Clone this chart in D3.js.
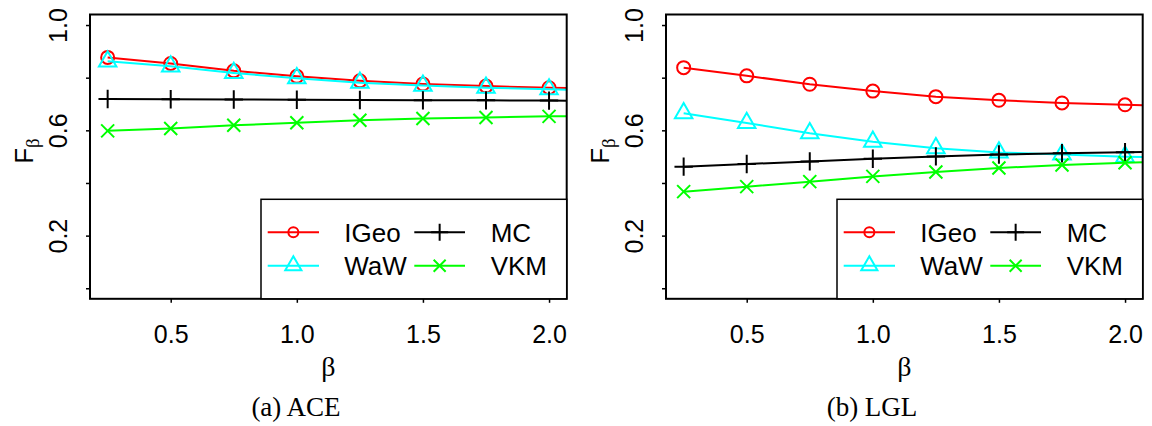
<!DOCTYPE html>
<html>
<head>
<meta charset="utf-8">
<script src="https://cdn.jsdelivr.net/npm/d3@7"></script>
<style>
  html, body { margin: 0; padding: 0; background: #fff; }
  svg { display: block; }
</style>
</head>
<body>
<svg id="chart" width="1152" height="426"></svg>
<script>
// beta values (the last one lies past the right edge and is clipped)
const betas = [0.25, 0.5, 0.75, 1.0, 1.25, 1.5, 1.75, 2.0, 2.25];

// ACE
const aceIGeo = [0.877, 0.854, 0.826, 0.805, 0.788, 0.776, 0.768, 0.762, 0.757];
const aceWaW  = [0.862, 0.843, 0.818, 0.798, 0.781, 0.770, 0.762, 0.756, 0.751];
const aceMC   = [0.719, 0.718, 0.717, 0.716, 0.715, 0.714, 0.714, 0.713, 0.712];
const aceVKM  = [0.598, 0.607, 0.619, 0.629, 0.638, 0.645, 0.649, 0.653, 0.656];

// LGL
const lglIGeo = [0.838, 0.807, 0.775, 0.749, 0.728, 0.714, 0.704, 0.697, 0.692];
const lglWaW  = [0.665, 0.628, 0.589, 0.557, 0.532, 0.516, 0.508, 0.500, 0.494];
const lglMC   = [0.462, 0.472, 0.482, 0.492, 0.501, 0.508, 0.513, 0.517, 0.520];
const lglVKM  = [0.367, 0.386, 0.405, 0.425, 0.442, 0.457, 0.468, 0.477, 0.484];

const seriesNames  = ["IGeo", "WaW", "MC", "VKM"];
const seriesColors = ["#ff0000", "#00ffff", "#000000", "#00ff00"];
const seriesShapes = ["circle", "triangle", "plus", "cross"];

const xTicks = [0.5, 1.0, 1.5, 2.0];
const yTicks = [0, 0.2, 0.4, 0.6, 0.8, 1.0];
const yLabelled = [0.2, 0.6, 1.0];

const panels = [
  { caption: "(a) ACE", data: [aceIGeo, aceWaW, aceMC, aceVKM] },
  { caption: "(b) LGL", data: [lglIGeo, lglWaW, lglMC, lglVKM] }
];

const svg = d3.select("#chart");
const sans = "'Liberation Sans', Arial, Helvetica, sans-serif";
const serif = "'Liberation Serif', 'Times New Roman', serif";

const plot = { left: 90, right: 566.7, top: 14.5, bottom: 298.8 };
const x = d3.scaleLinear().domain([0.18, 2.07]).range([plot.left, plot.right]);
const y = d3.scaleLinear().domain([-0.04, 1.04]).range([plot.bottom, plot.top]);

// marker path generator, s = base radius
function markerPath(shape, s) {
  const p = d3.path();
  if (shape === "circle") {
    p.moveTo(s, 0); p.arc(0, 0, s, 0, 2 * Math.PI);
  } else if (shape === "triangle") {
    const r = 1.555 * s, xc = 1.347 * s, yc = 0.778 * s;
    p.moveTo(0, -r); p.lineTo(xc, yc); p.lineTo(-xc, yc); p.closePath();
  } else if (shape === "plus") {
    const h = 1.414 * s;
    p.moveTo(-h, 0); p.lineTo(h, 0); p.moveTo(0, -h); p.lineTo(0, h);
  } else {
    p.moveTo(-s, -s); p.lineTo(s, s); p.moveTo(-s, s); p.lineTo(s, -s);
  }
  return p.toString();
}

panels.forEach((panel, pi) => {
  const g = svg.append("g").attr("transform", `translate(${pi * 576},0)`);
  const clipId = "clip" + pi;
  g.append("clipPath").attr("id", clipId)
    .append("rect")
    .attr("x", plot.left).attr("y", plot.top)
    .attr("width", plot.right - plot.left).attr("height", plot.bottom - plot.top);

  // series
  const line = d3.line().x((d, i) => x(betas[i])).y(d => y(d));
  const sg = g.append("g").attr("clip-path", `url(#${clipId})`);
  panel.data.forEach((vals, si) => {
    sg.append("path")
      .attr("d", line(vals))
      .attr("fill", "none")
      .attr("stroke", seriesColors[si])
      .attr("stroke-width", 2);
    sg.selectAll(null).data(vals).enter().append("path")
      .attr("transform", (d, i) => `translate(${x(betas[i])},${y(d)})`)
      .attr("d", markerPath(seriesShapes[si], 6.5))
      .attr("fill", "none")
      .attr("stroke", seriesColors[si])
      .attr("stroke-width", 2);
  });

  // x axis
  const xa = g.append("g")
    .attr("transform", `translate(0,${plot.bottom})`)
    .call(d3.axisBottom(x).tickValues(xTicks).tickSize(4).tickFormat(d3.format(".1f")));
  xa.select(".domain").remove();
  xa.selectAll("line").attr("stroke", "#000").attr("stroke-width", 1.5);
  xa.selectAll("text")
    .attr("y", 44).attr("dy", 0)
    .attr("fill", "#000")
    .style("font-family", sans).style("font-size", "25px");

  // y axis
  const ya = g.append("g")
    .attr("transform", `translate(${plot.left},0)`)
    .call(d3.axisLeft(y).tickValues(yTicks).tickSize(4)
      .tickFormat(d => yLabelled.some(v => Math.abs(v - d) < 1e-9) ? d3.format(".1f")(d) : ""));
  ya.select(".domain").remove();
  ya.selectAll("line").attr("stroke", "#000").attr("stroke-width", 1.5);
  ya.selectAll("text")
    .attr("x", null).attr("dy", 0)
    .attr("transform", "translate(-23,0) rotate(-90)")
    .attr("text-anchor", "middle")
    .attr("fill", "#000")
    .style("font-family", sans).style("font-size", "25px");

  // plot frame
  g.append("rect")
    .attr("x", plot.left).attr("y", plot.top)
    .attr("width", plot.right - plot.left).attr("height", plot.bottom - plot.top)
    .attr("fill", "none").attr("stroke", "#000").attr("stroke-width", 2);

  // axis titles
  const yl = g.append("text")
    .attr("transform", "translate(33,151) rotate(-90)")
    .attr("text-anchor", "middle")
    .style("font-family", sans).style("font-size", "26px");
  yl.append("tspan").text("F");
  yl.append("tspan").attr("dy", 6).style("font-family", serif).style("font-size", "19px").text("β");

  g.append("text")
    .attr("x", (plot.left + plot.right) / 2).attr("y", 376)
    .attr("text-anchor", "middle")
    .style("font-family", serif).style("font-size", "28px")
    .text("β");

  // caption
  g.append("text")
    .attr("x", 296).attr("y", 416)
    .attr("text-anchor", "middle")
    .style("font-family", serif).style("font-size", "27px")
    .text(panel.caption);

  // legend
  const lg = g.append("g");
  lg.append("rect")
    .attr("x", 261).attr("y", 199.3)
    .attr("width", plot.right - 261).attr("height", plot.bottom - 199.3)
    .attr("fill", "#fff").attr("stroke", "#000").attr("stroke-width", 1.5);
  const cols = [{ x0: 267.7, x1: 319, tx: 344.3 }, { x0: 414.3, x1: 465, tx: 490.7 }];
  const rows = [232.3, 265.7];
  // column-wise fill: IGeo, WaW in col 1; MC, VKM in col 2
  seriesNames.forEach((name, si) => {
    const c = cols[Math.floor(si / 2)], ry = rows[si % 2];
    lg.append("line")
      .attr("x1", c.x0).attr("x2", c.x1).attr("y1", ry).attr("y2", ry)
      .attr("stroke", seriesColors[si]).attr("stroke-width", 2);
    lg.append("path")
      .attr("transform", `translate(${(c.x0 + c.x1) / 2},${ry})`)
      .attr("d", markerPath(seriesShapes[si], seriesShapes[si] === "circle" ? 5 : 6))
      .attr("fill", "none")
      .attr("stroke", seriesColors[si]).attr("stroke-width", 2);
    lg.append("text")
      .attr("x", c.tx).attr("y", ry + 9.5)
      .style("font-family", sans).style("font-size", "26px")
      .text(name);
  });
});
</script>
</body>
</html>
